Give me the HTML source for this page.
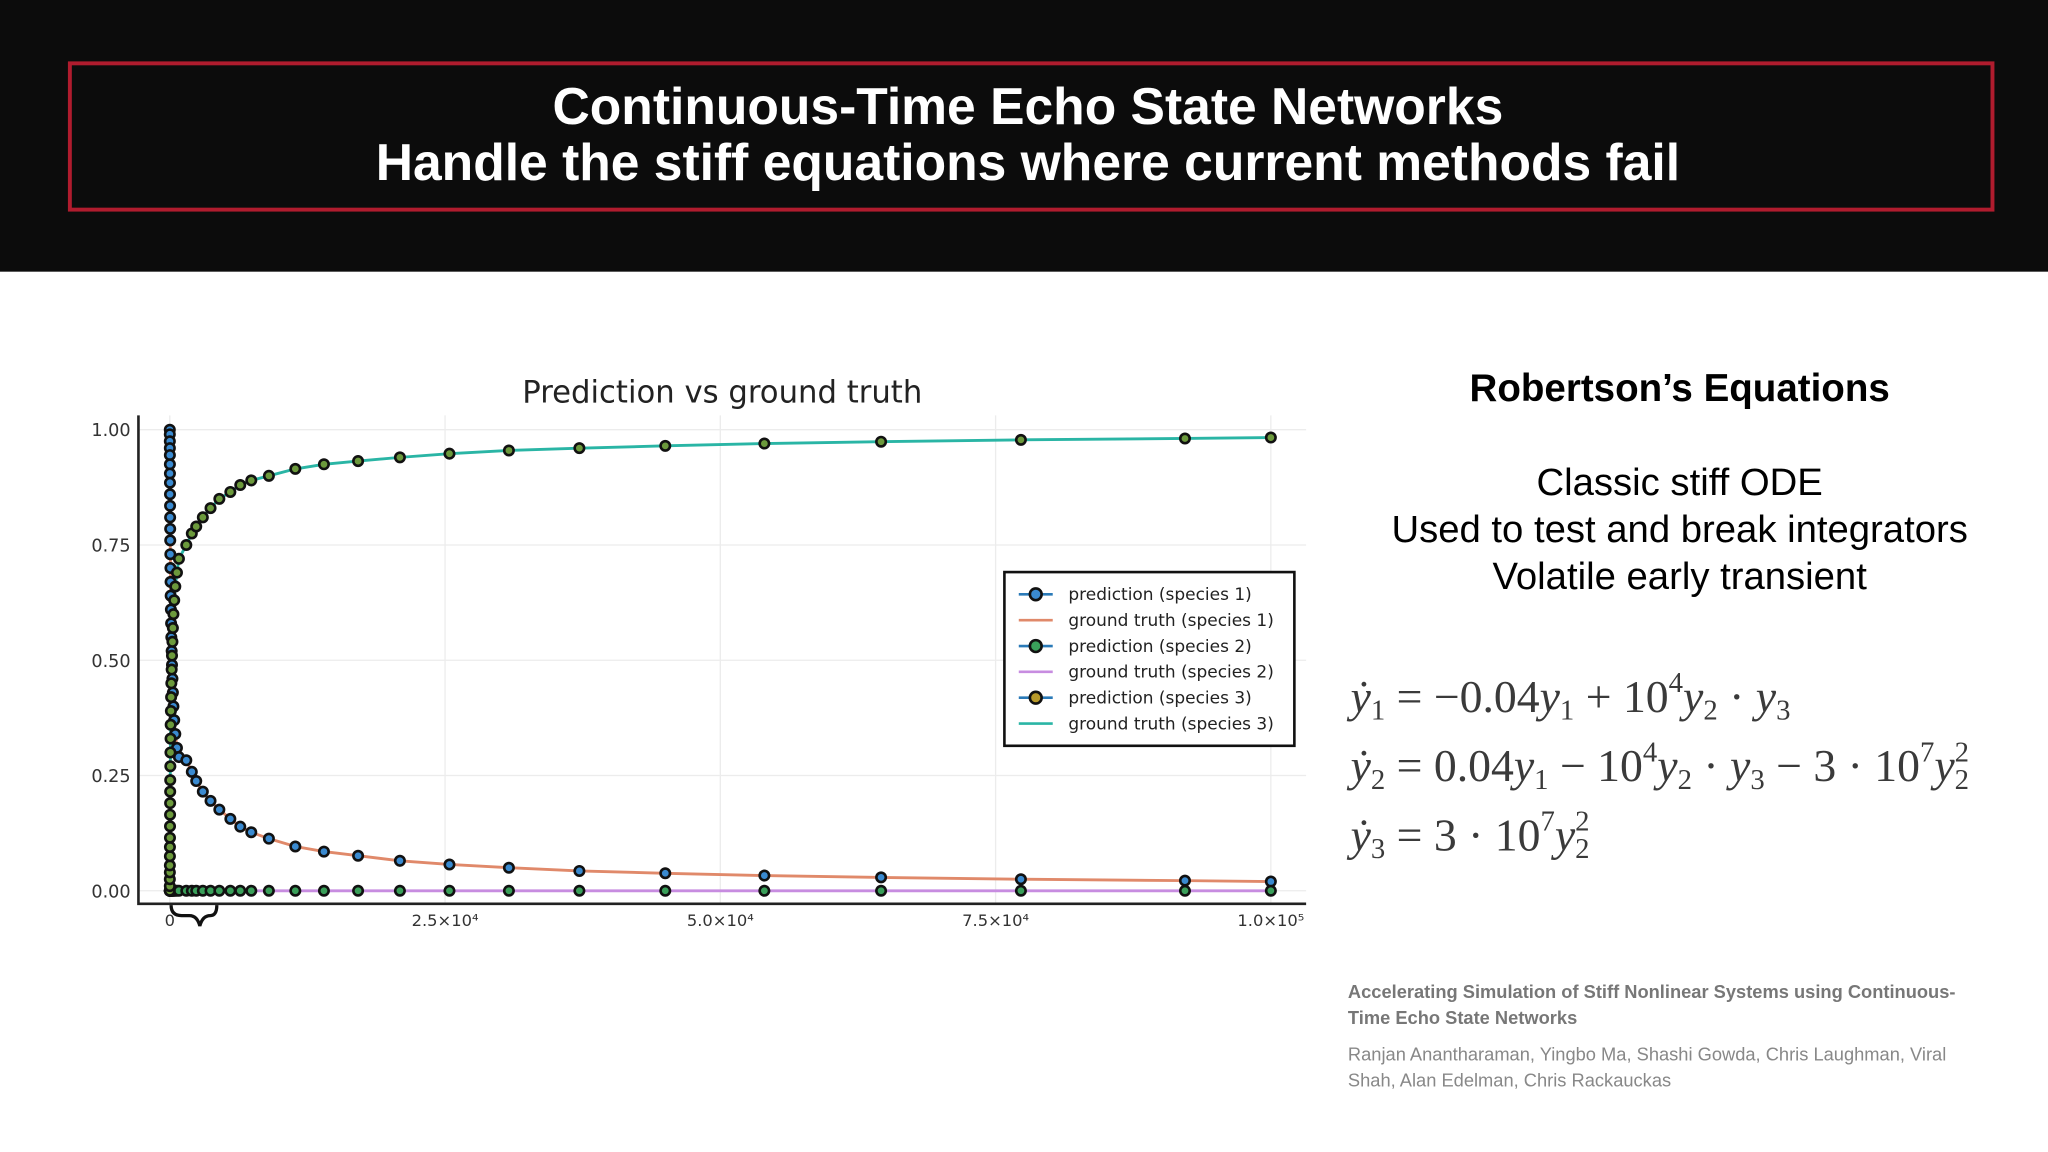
<!DOCTYPE html>
<html><head><meta charset="utf-8"><style>
html,body{margin:0;padding:0;background:#fff;overflow:hidden}
#root{position:relative;width:1568px;height:882px;transform:scale(1.30612);transform-origin:0 0;font-family:"Liberation Sans","DejaVu Sans",sans-serif}
.abs{position:absolute}
.eq{position:absolute;left:1034px;font-family:"Liberation Serif",serif;font-size:35px;color:#3a3a3a;white-space:nowrap}
.eq i{font-style:italic}
.eq sub{font-size:22px;vertical-align:-6px}
.eq sup{font-size:22px;vertical-align:15px}
</style></head><body>
<div id="root">
<div class="abs" style="left:0;top:0;width:1568px;height:208px;background:#0c0c0c"></div>
<div class="abs" style="left:52px;top:47px;width:1469px;height:109px;border:3px solid #b01c2e"></div>
<div class="abs" style="left:0;top:61px;width:1574px;text-align:center;color:#fff;font-weight:bold;font-size:39.5px;line-height:43px">Continuous-Time Echo State Networks<br>Handle the stiff equations where current methods fail</div>

<svg class="abs" style="left:0;top:0" width="1568" height="882" id="chart"></svg>

<div class="abs" style="left:1036px;top:281px;width:500px;text-align:center;font-weight:bold;font-size:29.5px">Robertson’s Equations</div>
<div class="abs" style="left:1036px;top:352px;width:500px;text-align:center;font-size:29.3px;line-height:36px">Classic stiff ODE<br>Used to test and break integrators<br>Volatile early transient</div>
<div class="eq" style="top:510px"><i>y&#775;</i><sub>1</sub> = −0.04<i>y</i><sub>1</sub> + 10<sup>4</sup><i>y</i><sub>2</sub> · <i>y</i><sub>3</sub></div>
<div class="eq" style="top:563px"><i>y&#775;</i><sub>2</sub> = 0.04<i>y</i><sub>1</sub> − 10<sup>4</sup><i>y</i><sub>2</sub> · <i>y</i><sub>3</sub> − 3 · 10<sup>7</sup><i>y</i><sub>2</sub><sup style="margin-left:-11px">2</sup></div>
<div class="eq" style="top:616px"><i>y&#775;</i><sub>3</sub> = 3 · 10<sup>7</sup><i>y</i><sub>2</sub><sup style="margin-left:-11px">2</sup></div>
<div class="abs" style="left:1032px;top:749px;width:490px;font-size:14px;line-height:20px;color:#777;font-weight:bold">Accelerating Simulation of Stiff Nonlinear Systems using Continuous-Time Echo State Networks</div>
<div class="abs" style="left:1032px;top:797px;width:490px;font-size:14px;line-height:20px;color:#888">Ranjan Anantharaman, Yingbo Ma, Shashi Gowda, Chris Laughman, Viral Shah, Alan Edelman, Chris Rackauckas</div>
</div>
<script>
const tK=[0,0.002,0.004,0.006,0.008,0.01,0.013,0.016,0.02,0.025,0.03,0.035,0.04,0.05,0.06,0.07,0.08,0.1,0.12,0.14,0.17,0.2,0.24,0.28,0.33,0.4,0.5,0.65,0.83,1.5,2.0,2.4,3.0,3.7,4.5,5.5,6.4,7.4,9.0,11.4,14.0,17.1,20.9,25.4,30.8,37.2,45,54,64.6,77.3,92.2,100];
const y1=[1.0,0.99,0.975,0.96,0.945,0.925,0.905,0.885,0.86,0.835,0.81,0.785,0.76,0.73,0.7,0.67,0.64,0.61,0.58,0.55,0.52,0.49,0.46,0.43,0.40,0.37,0.34,0.31,0.29,0.283,0.258,0.238,0.215,0.195,0.176,0.156,0.139,0.127,0.113,0.096,0.085,0.076,0.065,0.057,0.05,0.043,0.038,0.033,0.029,0.025,0.022,0.02];
const y2=tK.map(()=>0);
const y3=[0,0.01,0.025,0.04,0.055,0.075,0.095,0.115,0.14,0.165,0.19,0.215,0.24,0.27,0.3,0.33,0.36,0.39,0.42,0.45,0.48,0.51,0.54,0.57,0.6,0.63,0.66,0.69,0.72,0.75,0.775,0.79,0.81,0.83,0.85,0.865,0.88,0.89,0.9,0.915,0.925,0.932,0.94,0.948,0.955,0.96,0.965,0.97,0.974,0.978,0.981,0.983];
const yTicks=[0,0.25,0.5,0.75,1.0];
const yTickLabels=["0.00","0.25","0.50","0.75","1.00"];
const xTicks=[0,25,50,75,100];
const xTickLabels=["0","2.5×10⁴","5.0×10⁴","7.5×10⁴","1.0×10⁵"];
const legendLabels=["prediction (species 1)","ground truth (species 1)","prediction (species 2)","ground truth (species 2)","prediction (species 3)","ground truth (species 3)"];

const NS="http://www.w3.org/2000/svg";
const svg=document.getElementById('chart');
const X=v=>130+v*8.43, Y=v=>682-v*353;
function mk(tag,attrs,parent){const e=document.createElementNS(NS,tag);for(const k in attrs)e.setAttribute(k,attrs[k]);(parent||svg).appendChild(e);return e;}
yTicks.forEach((v,i)=>{const g=mk('line',{x1:106,x2:1000,y1:Y(v),y2:Y(v),stroke:'#ececec','stroke-width':1});


const t=mk('text',{x:100,y:Y(v)+5,'text-anchor':'end','font-size':13.5,fill:'#333','font-family':'DejaVu Sans, sans-serif'});t.textContent=yTickLabels[i];

});
xTicks.forEach((v,i)=>{const g=mk('line',{x1:X(v),x2:X(v),y1:318,y2:692,stroke:'#ececec','stroke-width':1});


const t=mk('text',{x:X(v),y:709,'text-anchor':'middle','font-size':12.5,fill:'#333','font-family':'DejaVu Sans, sans-serif'});t.textContent=xTickLabels[i];

});
const ax=mk('path',{d:'M106 318 V692 H1000',stroke:'#222','stroke-width':2,fill:'none'});


const ttl=mk('text',{x:553,y:308,'text-anchor':'middle','font-size':23.5,fill:'#222','font-family':'DejaVu Sans, sans-serif'});ttl.textContent='Prediction vs ground truth';


const br=mk('path',{d:'M131 693 q0 8 8 8 h6 q6 0 8 8 q2-8 8-8 h0 q5 0 5-8',stroke:'#111','stroke-width':2.5,fill:'none'});


const lineCol=['#e0896a','#c78ce0','#2ab5a5'], fillCol=['#3a8ad0','#3aa05a','#6c9a3c'];
const series=[y1,y2,y3];
series.forEach((s,k)=>{const p=mk('path',{d:s.map((v,i)=>(i?'L':'M')+X(tK[i]).toFixed(2)+' '+Y(v).toFixed(2)).join(' '),stroke:lineCol[k],'stroke-width':2.2,fill:'none'});

});
series.forEach((s,k)=>{s.forEach((v,i)=>{const c=mk('circle',{cx:X(tK[i]),cy:Y(v),r:3.6,fill:fillCol[k],stroke:'#111','stroke-width':2});

});});
const lg=mk('rect',{x:769,y:438,width:222,height:133,fill:'#fff',stroke:'#111','stroke-width':2});


const legFill=['#3a8ad0','#3aa05a','#b89a2a'];
legendLabels.forEach((lab,i)=>{const yy=455+i*19.8;const k=Math.floor(i/2);
const l=mk('line',{x1:780,x2:806,y1:yy,y2:yy,stroke:i%2?lineCol[k]:'#2a7ab8','stroke-width':2});


if(i%2===0){const c=mk('circle',{cx:793,cy:yy,r:4.5,fill:legFill[k],stroke:'#111','stroke-width':2});

}
const t=mk('text',{x:818,y:yy+4.5,'font-size':13,fill:'#222','font-family':'DejaVu Sans, sans-serif'});t.textContent=lab;

});
</script>
</body></html>
